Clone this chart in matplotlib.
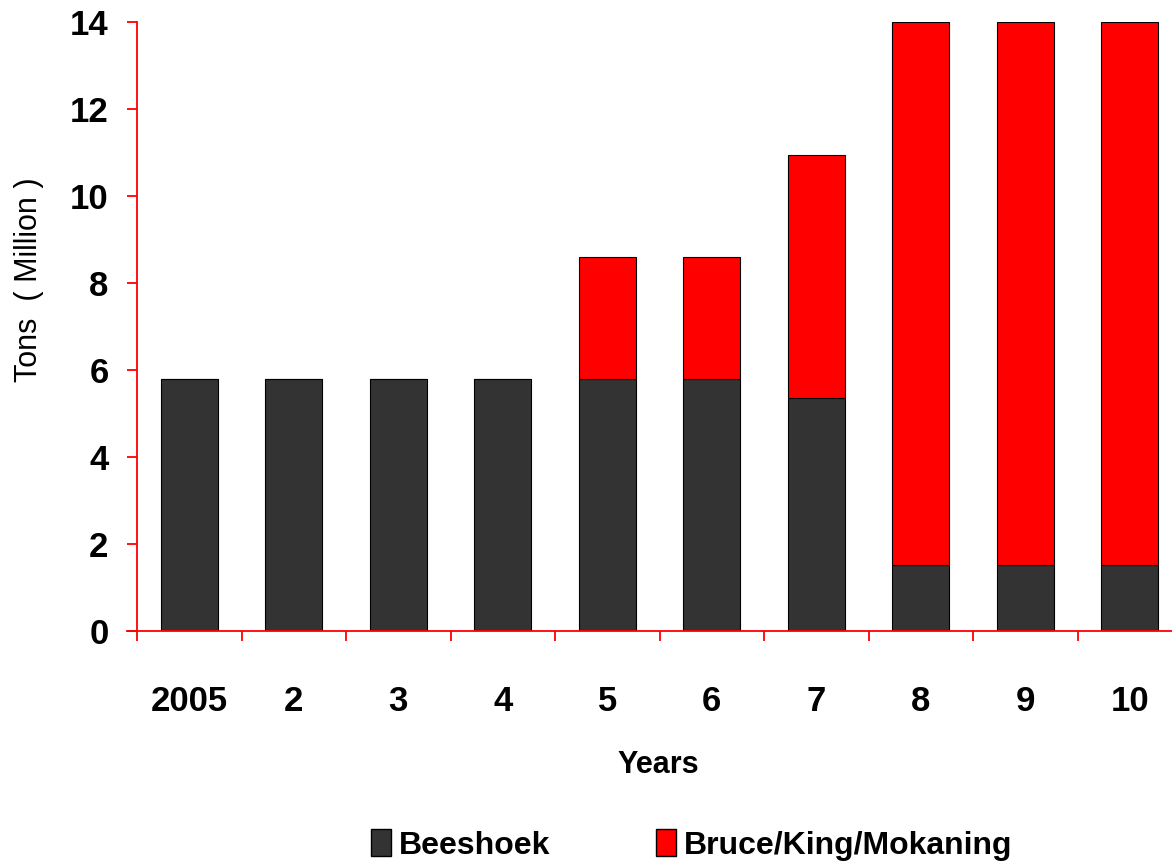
import numpy as np
import matplotlib.pyplot as plt
from matplotlib.patches import Patch

plt.rcParams['font.family'] = ['Liberation Sans Narrow', 'Liberation Sans', 'DejaVu Sans']

years = ['2005', '2', '3', '4', '5', '6', '7', '8', '9', '10']
beeshoek = [5.8, 5.8, 5.8, 5.8, 5.8, 5.8, 5.35, 1.52, 1.52, 1.52]
bruce = [0, 0, 0, 0, 2.8, 2.8, 5.6, 12.48, 12.48, 12.48]

dark = '#333333'
red = '#ff0000'

fig = plt.figure(figsize=(11.72, 8.68), dpi=100)
ax = fig.add_axes([137/1172, 1-631/868, 1045/1172, 609/868])

x = np.arange(len(years))
ax.bar(x, beeshoek, 0.55, color=dark, edgecolor='black', linewidth=0.8)
ax.bar(x, bruce, 0.55, bottom=beeshoek, color=red, edgecolor='black', linewidth=0.8)

ax.set_xlim(-0.5, 9.5)
ax.set_ylim(0, 14)
ax.set_yticks(np.arange(0, 15, 2))
ax.set_xticks(x)
ax.set_xticklabels(years)
ax.set_xticks(np.arange(-0.5, 10, 1), minor=True)

for s in ['top', 'right']:
    ax.spines[s].set_visible(False)
for s in ['left', 'bottom']:
    ax.spines[s].set_color(red)
    ax.spines[s].set_linewidth(1.3)

ax.tick_params(axis='x', which='major', length=0, pad=39, labelsize=25)
ax.tick_params(axis='x', which='minor', length=7.5, width=1.3, color=red)
ax.tick_params(axis='y', length=7.5, width=1.3, color=red, pad=13, labelsize=25)
for lab in ax.get_xticklabels() + ax.get_yticklabels():
    lab.set_fontweight('bold')

# x axis line runs a bit past the y axis like the original
ax.plot([-0.6, -0.5], [0, 0], color=red, lw=1.3, clip_on=False)

fig.text(29/1172, 1-280/868, 'Tons  ( Million )', rotation=90, ha='center', va='center', fontsize=22)
fig.text(658/1172, 1-765/868, 'Years', ha='center', va='center', fontsize=22, fontweight='bold')

handles = [Patch(facecolor=dark, edgecolor='black', label='Beeshoek'),
           Patch(facecolor=red, edgecolor='black', label='Bruce/King/Mokaning')]
fig.legend(handles=handles, loc='center', bbox_to_anchor=(692/1172, 1-845/868), ncol=2, frameon=False,
           prop={'size': 23, 'weight': 'bold'}, handlelength=0.63, handleheight=0.9,
           handletextpad=0.25, columnspacing=3.3)

plt.savefig('out.png', dpi=100)
